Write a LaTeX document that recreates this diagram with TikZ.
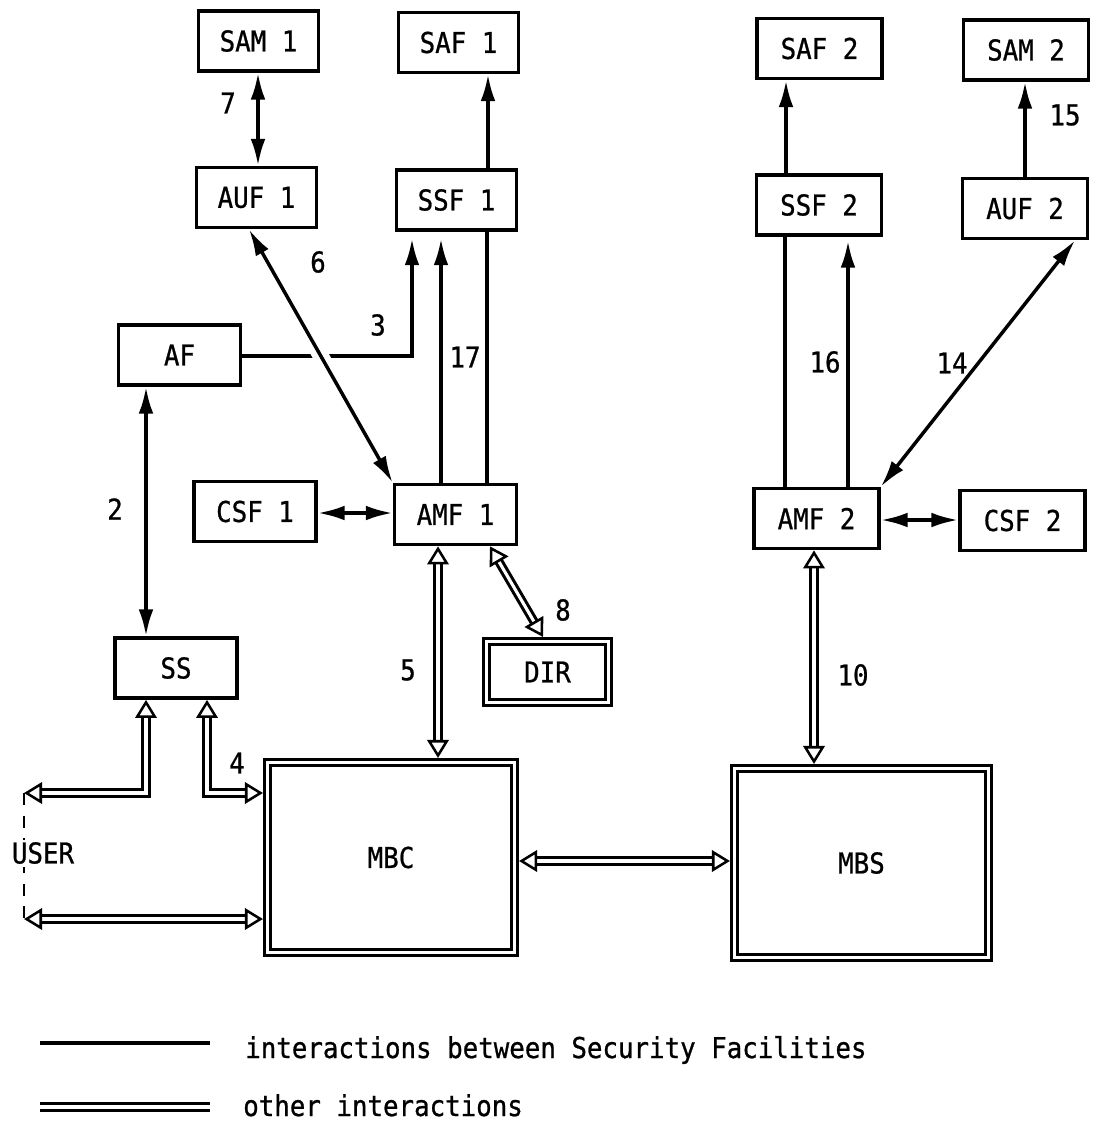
\documentclass[tikz,border=0pt]{standalone}
\usepackage{fontspec}
\setmainfont{DejaVu Sans Mono}[FakeBold=0.8,FakeStretch=0.9]
\usetikzlibrary{arrows.meta}
\def\px{0.75pt}
\begin{document}
\begin{tikzpicture}[x=0.75pt,y=-0.75pt,
  font=\fontsize{21.5}{25}\selectfont,
  box/.style={draw,line width=2.8pt,inner sep=0pt,minimum height=60*\px},
  wL/.style={minimum width=120*\px},
  wM/.style={minimum width=122*\px},
  wR/.style={minimum width=125*\px},
  dbox/.style={draw,line width=2.3pt,double,double distance=2.3pt,inner sep=0pt,outer sep=3.4pt},
  ln/.style={line width=2.6pt},
  tipS/.tip={Latex[length=20pt,width=11pt]},
  tipO/.tip={Triangle[open,length=13.5pt,width=16pt,line width=1.9pt]},
  sar/.style={ln,-tipS},
  dar/.style={ln,tipS-tipS},
  dbl/.style={line width=2.3pt,double,double distance=2.3pt,tipO-tipO},
  lab/.style={inner sep=0pt}
]
\useasboundingbox (0,0) rectangle (1096,1122);
% boxes
\node[box,wL] (sam1) at (258.5,41) {SAM 1};
\node[box,wL] (saf1) at (458.5,42.5) {SAF 1};
\node[box,wL] (auf1) at (256.5,197.5) {AUF 1};
\node[box,wL] (ssf1) at (456.5,200) {SSF 1};
\node[box,wR] (saf2) at (819.5,48.5) {SAF 2};
\node[box,wR] (sam2) at (1026,50) {SAM 2};
\node[box,wR] (ssf2) at (819,205) {SSF 2};
\node[box,wR] (auf2) at (1025,208.5) {AUF 2};
\node[box,wM] (af) at (179.5,355) {AF};
\node[box,wM] (csf1) at (255,511.5) {CSF 1};
\node[box,wM] (amf1) at (455.5,514.5) {AMF 1};
\node[box,wR] (amf2) at (816.5,518.5) {AMF 2};
\node[box,wR] (csf2) at (1022.5,520.5) {CSF 2};
\node[box,wM] (ss) at (176,668) {SS};
\node[dbox,minimum width=122*\px,minimum height=61*\px] (dir) at (547.5,672) {DIR};
\node[dbox,minimum width=247*\px,minimum height=190*\px] (mbc) at (391,857.5) {MBC};
\node[dbox,minimum width=254*\px,minimum height=189*\px] (mbs) at (861.5,863) {MBS};
% single connectors
\draw[dar] (sam1.south -| 258,0) -- (auf1.north -| 258,0);
\draw[sar] (ssf1.north -| 488,0) -- (saf1.south -| 488,0);
\draw[sar,shorten >=5pt] (af.east |- 0,356) -- (412,356) -- (ssf1.south -| 412,0);
\draw[dar,preaction={draw=white,-,line width=12pt,shorten <=50pt,shorten >=50pt}] (auf1.south -| 249,0) -- (amf1.north west);
\draw[sar,shorten >=5pt] (amf1.north -| 441,0) -- (ssf1.south -| 441,0);
\draw[ln] (amf1.north -| 487,0) -- (ssf1.south -| 487,0);
\draw[dar] (af.south -| 146,0) -- (ss.north -| 146,0);
\draw[dar] (csf1.east |- 0,513) -- (amf1.west |- 0,513);
\draw[sar] (ssf2.north -| 786,0) -- (saf2.south -| 786,0);
\draw[ln] (amf2.north -| 785,0) -- (ssf2.south -| 785,0);
\draw[sar,shorten >=3pt] (amf2.north -| 848,0) -- (ssf2.south -| 848,0);
\draw[dar] (amf2.north east) -- (auf2.south -| 1075,0);
\draw[sar] (auf2.north -| 1025,0) -- (sam2.south -| 1025,0);
\draw[dar] (amf2.east |- 0,520) -- (csf2.west |- 0,520);
% double connectors
\coordinate (uT) at (24,793);
\coordinate (uB) at (24,919);
\draw[dbl] (amf1.south -| 438,0) -- (mbc.north -| 438,0);
\draw[dbl] (amf1.south -| 490,0) -- (dir.north -| 543,0);
\draw[dbl] (ss.south -| 146,0) |- (uT);
\draw[dbl] (ss.south -| 207,0) |- (mbc.west |- 0,793);
\draw[dbl] (uB) -- (mbc.west |- uB);
\draw[dbl] (mbc.east |- 0,861) -- (mbs.west |- 0,861);
\draw[dbl] (amf2.south -| 814,0) -- (mbs.north -| 814,0);
\draw[line width=1.5pt,dash pattern=on 9pt off 8pt] (uT) -- (uB);
% labels
\node[lab] (l7) at (228,103) {7};
\node[lab] (l6) at (318,262) {6};
\node[lab] (l3) at (378,325) {3};
\node[lab] (l17) at (465,357) {17};
\node[lab] (l2) at (115,509) {2};
\node[lab] (l5) at (408,670) {5};
\node[lab] (l8) at (563,610) {8};
\node[lab] (l4) at (237,763) {4};
\node[lab] (l10) at (853,675) {10};
\node[lab] (l16) at (825,362) {16};
\node[lab] (l14) at (952,363) {14};
\node[lab] (l15) at (1065,115) {15};
\node[lab,fill=white,inner ysep=2pt] (user) at (43,853) {USER};
% legend
\coordinate (la1) at (40,1043);
\coordinate (lb1) at (210,1043);
\coordinate (la2) at (40,1107);
\coordinate (lb2) at (210,1107);
\draw[ln] (la1) -- (lb1);
\draw[line width=2.3pt,double,double distance=2.3pt] (la2) -- (lb2);
\node[lab,anchor=base west] (t1) at (245,1058) {interactions between Security Facilities};
\node[lab,anchor=base west] (t2) at (243,1116) {other interactions};
\end{tikzpicture}
\end{document}
